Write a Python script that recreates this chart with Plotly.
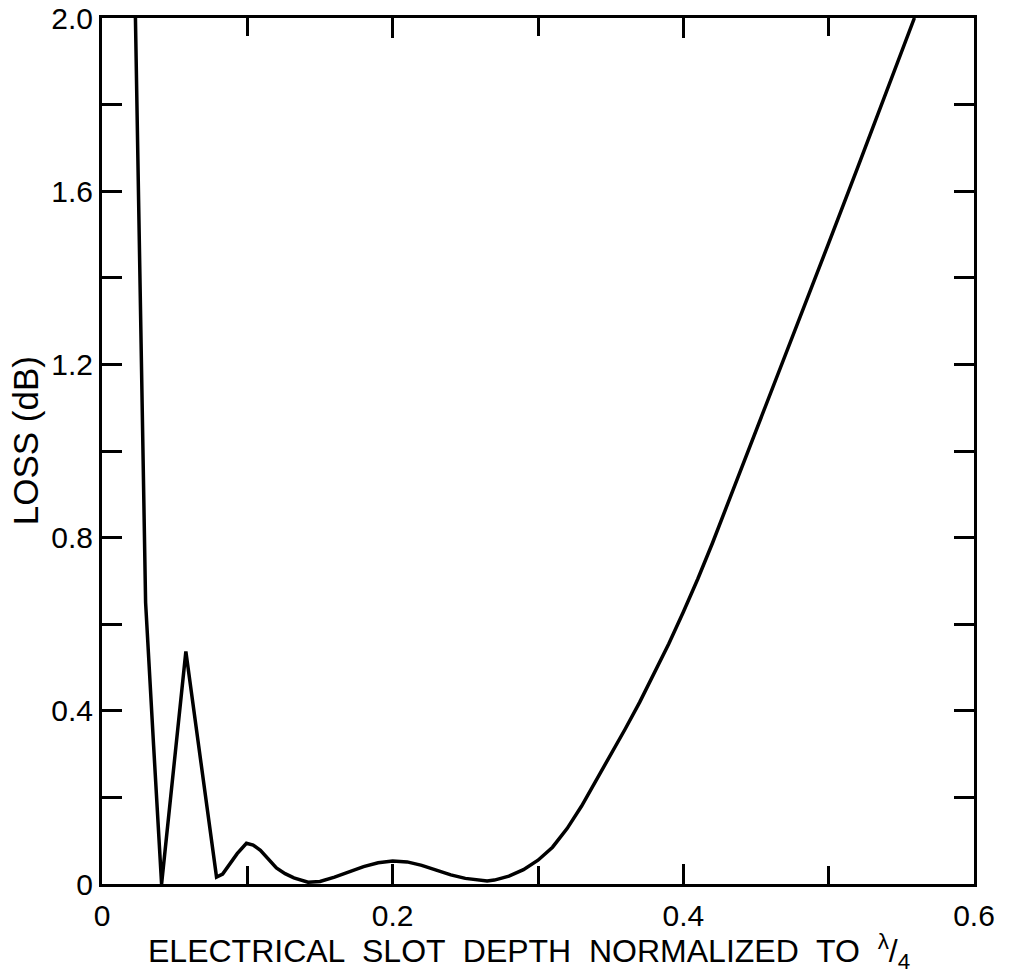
import plotly.graph_objects as go

# Curve: electrical slot depth (normalized to lambda/4) vs loss (dB)
slot_depth = [0.023, 0.0265, 0.030, 0.0355, 0.041, 0.0577, 0.0788, 0.083, 0.088,
              0.093, 0.0994, 0.104, 0.109, 0.115, 0.12, 0.126, 0.132, 0.1418,
              0.15, 0.16, 0.17, 0.18, 0.19, 0.20, 0.21, 0.22, 0.23, 0.24, 0.25,
              0.26, 0.265, 0.27, 0.28, 0.29, 0.30, 0.31, 0.32, 0.33, 0.34, 0.35,
              0.36, 0.37, 0.38, 0.39, 0.40, 0.41, 0.42, 0.44, 0.46, 0.48, 0.50,
              0.52, 0.54, 0.559]
loss_db = [2.0, 1.3, 0.65, 0.32, 0.0, 0.537, 0.016, 0.023, 0.045,
           0.07, 0.094, 0.09, 0.078, 0.055, 0.037, 0.024, 0.014, 0.004,
           0.006, 0.016, 0.028, 0.04, 0.049, 0.053, 0.051, 0.043, 0.032, 0.021, 0.013,
           0.008, 0.007, 0.009, 0.018, 0.033, 0.055, 0.085, 0.128, 0.18, 0.238, 0.297,
           0.358, 0.42, 0.486, 0.555, 0.628, 0.705, 0.787, 0.96, 1.13, 1.305, 1.48,
           1.655, 1.83, 2.0]

x_tickvals = [0, 0.2, 0.4, 0.6]
x_ticktext = ["0", "0.2", "0.4", "0.6"]
y_tickvals = [0, 0.4, 0.8, 1.2, 1.6, 2.0]
y_ticktext = ["0", "0.4", "0.8", "1.2", "1.6", "2.0"]

x_title = "ELECTRICAL  SLOT  DEPTH  NORMALIZED  TO  <sup>λ</sup>/<sub>4</sub>"
y_title = "LOSS (dB)"

FONT = "Liberation Sans, Arial, sans-serif"

fig = go.Figure()
fig.add_trace(go.Scatter(x=slot_depth, y=loss_db, mode="lines",
                         line=dict(color="black", width=3.5),
                         showlegend=False, hoverinfo="skip"))

axis_common = dict(
    showline=True, linecolor="black", linewidth=3, mirror="ticks",
    ticks="inside", ticklen=20, tickwidth=3, tickcolor="black",
    showgrid=False, zeroline=False, automargin=False,
    tickfont=dict(family=FONT, size=30, color="black"),
)

fig.update_xaxes(range=[0, 0.6], tickvals=x_tickvals, ticktext=x_ticktext,
                 minor=dict(dtick=0.1, ticks="inside", ticklen=18, tickwidth=3,
                            tickcolor="black", showgrid=False),
                 ticklabelstandoff=3, **axis_common)
fig.update_yaxes(range=[0, 2.0], tickvals=y_tickvals, ticktext=y_ticktext,
                 minor=dict(dtick=0.2, ticks="inside", ticklen=20, tickwidth=3,
                            tickcolor="black", showgrid=False),
                 **axis_common)

fig.add_annotation(text=x_title, xref="paper", yref="paper",
                   x=0.49, y=-0.05, xanchor="center", yanchor="top",
                   showarrow=False,
                   font=dict(family=FONT, size=32, color="black"))
fig.add_annotation(text=y_title, xref="paper", yref="paper",
                   x=-0.088, y=0.5115, xanchor="center", yanchor="middle",
                   textangle=-90, showarrow=False,
                   font=dict(family=FONT, size=35, color="black"))

fig.update_layout(
    template="none",
    width=1009, height=979,
    margin=dict(l=102, r=35, t=18, b=95),
    paper_bgcolor="white", plot_bgcolor="white",
)

fig.write_html("out.html",
               config={"displayModeBar": False},
               post_script="document.body.style.margin='0px';"
                           "document.body.style.overflow='hidden';")
